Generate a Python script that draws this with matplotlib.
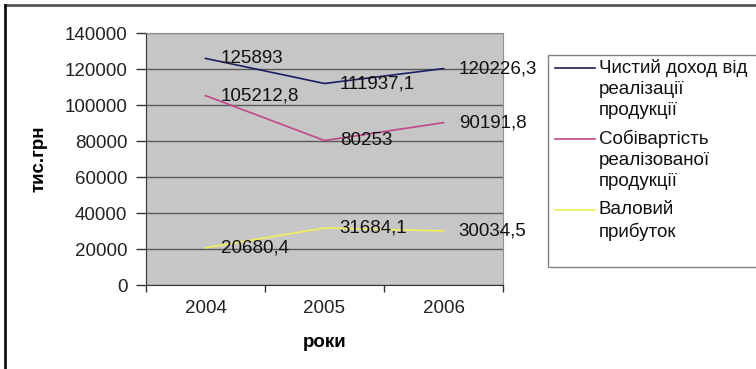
import matplotlib
matplotlib.use("Agg")
import matplotlib.pyplot as plt
from matplotlib.lines import Line2D
from matplotlib.patches import Rectangle

years = ["2004", "2005", "2006"]
series_names = ["Чистий доход від\nреалізації\nпродукції",
                "Собівартість\nреалізованої\nпродукції",
                "Валовий\nприбуток"]
net_income = [125893, 111937.1, 120226.3]
cost = [105212.8, 80253, 90191.8]
gross_profit = [20680.4, 31684.1, 30034.5]
series_values = [net_income, cost, gross_profit]
colors = ["#1c1f5e", "#c0488c", "#f2ee5a"]
yticks = [0, 20000, 40000, 60000, 80000, 100000, 120000, 140000]

plt.rcParams['font.family'] = ['Liberation Sans', 'DejaVu Sans']

W, H = 756, 369
FS = 13.5
fig = plt.figure(figsize=(W / 100, H / 100), dpi=100)
ax = fig.add_axes([146 / W, 1 - 285 / H, (503 - 146) / W, (285 - 33) / H])
ax.set_facecolor("#c6c6c6")

x = list(range(len(years)))
for vals, col in zip(series_values, colors):
    ax.plot(x, vals, color=col, lw=1.2, zorder=3)
    for xi, v in zip(x, vals):
        s = ('%.1f' % v).rstrip('0').rstrip('.').replace('.', ',')
        ax.annotate(s, (xi, v), xytext=(11, 0), textcoords='offset points',
                    va='center', ha='left', fontsize=FS, color='#111111',
                    zorder=4, annotation_clip=False)

ax.set_xlim(-0.5, len(years) - 0.5)
ax.set_ylim(0, 140000)
ax.set_yticks(yticks)
ax.set_yticklabels([str(t) for t in yticks], fontsize=FS, color='#222222')
ax.set_xticks(x)
ax.set_xticklabels(years, fontsize=FS, color='#222222')
ax.set_xticks([i - 0.5 for i in range(len(years) + 1)], minor=True)
ax.tick_params(axis='x', which='major', length=0, pad=11)
ax.tick_params(axis='x', which='minor', length=5, width=1, color='#333333')
ax.tick_params(axis='y', length=7, width=1, color='#333333', pad=6.5)
ax.yaxis.grid(True, color='#5a5a5a', lw=1)
ax.set_axisbelow(True)
for side in ['top', 'right']:
    ax.spines[side].set_color('#909090')
for side in ['left', 'bottom']:
    ax.spines[side].set_color('#333333')

ax.set_ylabel("тис.грн", fontsize=13.5, fontweight='bold')
ax.set_xlabel("роки", fontsize=13.5, fontweight='bold')
ax.yaxis.set_label_coords(-(146 - 48) / (503 - 146), 0.5)
ax.xaxis.set_label_coords(0.5, -(334 - 285) / (285 - 33))

# outer chart border (top and left visible)
fig.add_artist(Line2D([5 / W, 1], [1 - 5 / H, 1 - 5 / H], color='#555555', lw=2))
fig.add_artist(Line2D([5 / W, 5 / W], [0, 1 - 5 / H], color='#111111', lw=2))

# legend
fig.add_artist(Rectangle((548 / W, 1 - 267 / H), (W + 10 - 548) / W, (267 - 55) / H,
                         fill=False, edgecolor='#808080', lw=1, clip_on=False))
line_y = [68, 139, 210]
for name, col, ly in zip(series_names, colors, line_y):
    fig.add_artist(Line2D([555 / W, 595 / W], [1 - ly / H, 1 - ly / H], color=col, lw=1.2))
    fig.text(599 / W, 1 - (ly - 9) / H, name, fontsize=FS, va='top', ha='left',
             color='#111111', linespacing=1.3)

fig.savefig("out.png", dpi=100)
